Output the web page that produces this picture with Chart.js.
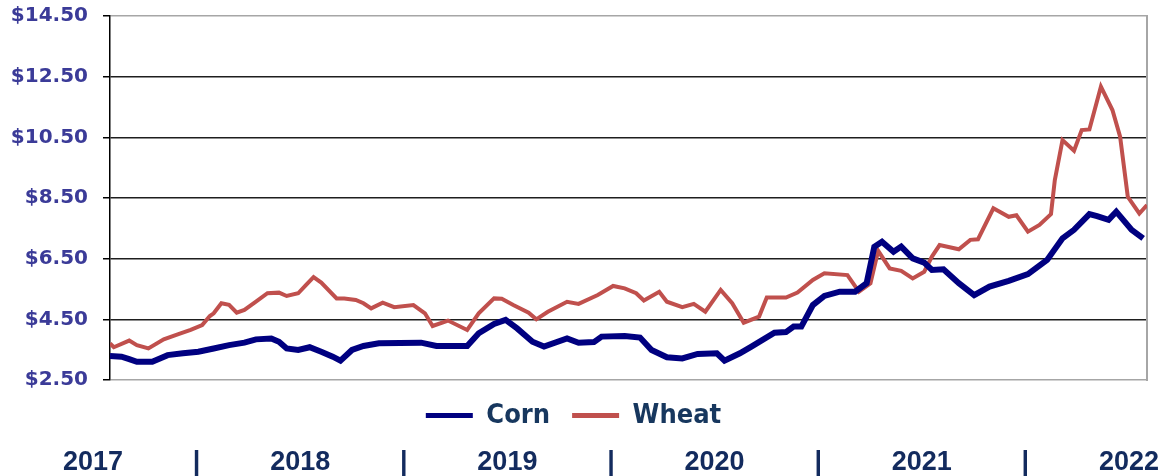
<!DOCTYPE html>
<html>
<head>
<meta charset="utf-8">
<script src="https://cdn.jsdelivr.net/npm/chart.js@4"></script>
<style>
  html, body { margin: 0; padding: 0; background: #fff; }
  #wrap { width: 1167px; height: 476px; }
</style>
</head>
<body>
<div id="wrap"><canvas id="myChart"></canvas></div>
<script>
const ctx = document.getElementById('myChart')

// weekly cash prices, $/bu, week 0 = start of 2017
const cornWeeks = [0, 3, 5, 7, 11, 13, 15, 19, 23, 27, 31, 35, 38, 42, 44, 46, 49, 52, 55, 58, 60, 63, 66, 70, 81, 85, 93, 96, 100, 103, 106, 110, 113, 119, 122, 126, 128, 134, 138, 141, 145, 149, 153, 158, 160, 164, 167, 173, 176, 178, 180, 183, 186, 190, 194, 197, 199, 201, 204, 206, 209, 212, 214, 217, 221, 225, 229, 234, 239, 244, 248, 251, 255, 257, 260, 262, 266, 269]
const cornPrices = [3.29, 3.27, 3.19, 3.10, 3.10, 3.21, 3.32, 3.38, 3.43, 3.54, 3.65, 3.73, 3.84, 3.87, 3.76, 3.54, 3.49, 3.58, 3.43, 3.27, 3.14, 3.49, 3.62, 3.71, 3.73, 3.62, 3.62, 4.04, 4.35, 4.48, 4.20, 3.76, 3.60, 3.87, 3.73, 3.75, 3.93, 3.95, 3.90, 3.49, 3.25, 3.21, 3.36, 3.38, 3.14, 3.38, 3.60, 4.06, 4.08, 4.26, 4.26, 4.97, 5.27, 5.41, 5.41, 5.69, 6.89, 7.06, 6.73, 6.90, 6.51, 6.37, 6.13, 6.15, 5.69, 5.30, 5.58, 5.77, 5.99, 6.46, 7.17, 7.45, 7.97, 7.90, 7.78, 8.05, 7.45, 7.17]

const wheatWeeks = [0, 1, 5, 7, 10, 14, 18, 21, 24, 26, 27, 29, 31, 33, 35, 38, 41, 44, 46, 49, 51, 53, 55, 59, 61, 64, 66, 68, 71, 74, 79, 82, 84, 88, 93, 96, 100, 102, 105, 109, 111, 114, 119, 122, 127, 131, 134, 137, 139, 143, 145, 149, 152, 155, 159, 162, 165, 169, 171, 176, 179, 183, 186, 192, 195, 198, 200, 203, 206, 209, 212, 214, 216, 221, 224, 226, 230, 234, 236, 239, 242, 245, 246, 248, 251, 253, 255, 258, 261, 263, 265, 268, 270]
const wheatPrices = [3.71, 3.58, 3.80, 3.65, 3.54, 3.84, 4.02, 4.15, 4.31, 4.61, 4.70, 5.03, 4.98, 4.72, 4.81, 5.08, 5.36, 5.38, 5.27, 5.36, 5.63, 5.89, 5.71, 5.19, 5.19, 5.14, 5.03, 4.86, 5.05, 4.90, 4.97, 4.70, 4.28, 4.46, 4.15, 4.70, 5.19, 5.18, 4.97, 4.72, 4.50, 4.75, 5.08, 5.01, 5.30, 5.60, 5.52, 5.36, 5.12, 5.41, 5.08, 4.90, 5.01, 4.75, 5.47, 5.03, 4.39, 4.59, 5.22, 5.22, 5.38, 5.80, 6.02, 5.96, 5.41, 5.69, 6.76, 6.18, 6.10, 5.85, 6.07, 6.57, 6.95, 6.81, 7.12, 7.14, 8.16, 7.88, 7.93, 7.39, 7.61, 7.97, 9.09, 10.41, 10.06, 10.74, 10.76, 12.17, 11.40, 10.52, 8.54, 7.99, 8.27]

const yearLabels = ['2017', '|', '2018', '|', '2019', '|', '2020', '|', '2021', '|', '2022']

const toPoints = (xs, ys) => xs.map((x, i) => ({ x: x, y: ys[i] }))

const edgeGrey = '#A6A6A6'

new Chart(ctx, {
  type: 'line',
  data: {
    datasets: [{
      label: 'Corn',
      data: toPoints(cornWeeks, cornPrices),
      borderColor: '#000080',
      backgroundColor: '#000080',
      borderWidth: 6,
      pointRadius: 0,
      tension: 0
    }, {
      label: 'Wheat',
      data: toPoints(wheatWeeks, wheatPrices),
      borderColor: '#C0504D',
      backgroundColor: '#C0504D',
      borderWidth: 4,
      pointRadius: 0,
      tension: 0
    }]
  },
  options: {
    responsive: true,
    maintainAspectRatio: false,
    devicePixelRatio: 1,
    animation: false,
    layout: { padding: { top: 16, right: 20, left: 0, bottom: 0 } },
    plugins: {
      tooltip: { enabled: false },
      legend: {
        position: 'bottom',
        labels: {
          boxWidth: 47,
          boxHeight: 5,
          padding: 22,
          color: '#17375E',
          font: { family: "'DejaVu Sans Condensed', 'DejaVu Sans'", weight: 'bold', size: 27, lineHeight: 1 },
          generateLabels: (chart) => Chart.defaults.plugins.legend.labels.generateLabels(chart)
            .map(item => Object.assign(item, { lineWidth: 0 }))
        }
      }
    },
    scales: {
      x: {
        type: 'linear',
        min: 0,
        max: 270,
        display: false
      },
      years: {
        type: 'linear',
        position: 'bottom',
        weight: 2000,
        min: (110 - 93) / 103.5,
        max: (1146 - 93) / 103.5,
        grid: { display: false, drawTicks: false },
        border: { display: false },
        afterBuildTicks: (axis) => {
          axis.ticks = yearLabels.map((_, i) => ({ value: i }))
        },
        afterFit: (axis) => {
          axis.paddingLeft = 0
          axis.paddingRight = 0
          axis.height = 37
        },
        ticks: {
          autoSkip: false,
          maxRotation: 0,
          padding: 10,
          color: '#132B5E',
          font: { family: "'Liberation Sans', Arial", weight: 'bold', size: 27, lineHeight: 1 },
          callback: (v) => yearLabels[v]
        }
      },
      y: {
        min: 2.5,
        max: 14.5,
        afterFit: (axis) => {
          axis.width = 110
          axis.paddingTop = 0
          axis.paddingBottom = 0
        },
        grid: {
          color: (c) => (c.tick && (c.tick.value === 14.5 || c.tick.value === 2.5)) ? edgeGrey : '#1E1E1E',
          tickColor: '#000',
          tickLength: 7,
          lineWidth: 1.5
        },
        border: { color: '#000', width: 1.5 },
        ticks: {
          stepSize: 2,
          padding: 15,
          color: '#3B3B98',
          font: { family: "'DejaVu Sans'", weight: 'bold', size: 20 },
          callback: (v) => '$' + v.toFixed(2)
        }
      },
      yRight: {
        position: 'right',
        min: 2.5,
        max: 14.5,
        grid: { drawOnChartArea: false, drawTicks: false },
        border: { color: edgeGrey, width: 2 },
        ticks: { display: false }
      }
    }
  }
})
</script>
</body>
</html>
